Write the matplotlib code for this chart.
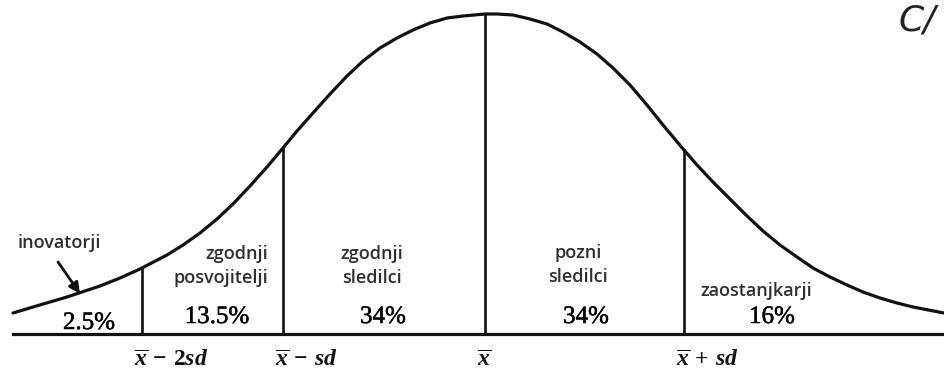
import numpy as np
import matplotlib
matplotlib.use('Agg')
import matplotlib.pyplot as plt
import matplotlib.patheffects as pe

# curve (x across, height above the base line)
curve_x = [13, 33, 50, 67, 100, 120, 140, 167, 183, 200, 217, 233, 250, 267,
           283, 297, 313, 330, 347, 363, 380, 397, 413, 430, 447, 463, 485,
           497, 513, 530, 547, 563, 580, 597, 613, 630, 647, 663, 684, 697,
           713, 730, 747, 763, 780, 797, 813, 830, 847, 863, 880, 897, 913, 944]
curve_h = [21, 27, 32, 37, 48, 56, 65, 79, 89, 101, 115, 130, 148, 167,
           186, 203, 221, 240, 258, 273, 286, 296, 304, 311, 316, 318, 320,
           320, 319, 315, 310, 302, 292, 280, 266, 249, 229, 209, 184, 169,
           152, 135, 118, 103, 89, 77, 66, 57, 49, 42, 36, 31, 27, 21]

# boundaries between the groups
bounds = [142, 283, 485, 684]
bound_labels = [r'$\overline{x}\,-\,2sd$', r'$\overline{x}\,-\,sd$',
                r'$\overline{x}$', r'$\overline{x}\,+\,sd$']

groups = ['inovatorji', 'zgodnji\nposvojitelji', 'zgodnji\nsledilci',
          'pozni\nsledilci', 'zaostanjkarji']
shares = ['2.5%', '13.5%', '34%', '34%', '16%']

plt.rcParams['mathtext.fontset'] = 'custom'
plt.rcParams['mathtext.it'] = 'Liberation Serif:italic:bold'
plt.rcParams['mathtext.rm'] = 'Liberation Serif:bold'
plt.rcParams['mathtext.bf'] = 'Liberation Serif:bold'

fig = plt.figure(figsize=(9.44, 3.73), dpi=100)
ax = fig.add_axes([0, 0, 1, 1])
ax.set_xlim(0, 944)
ax.set_ylim(-39, 334)
ax.axis('off')

ink = '#111111'
ax.plot(curve_x, curve_h, color=ink, lw=2.3, solid_joinstyle='round',
        solid_capstyle='round')
ax.plot([13, 944], [0, 0], color=ink, lw=2.3)

tops = np.interp(bounds, curve_x, curve_h)
for b, t in zip(bounds, tops):
    ax.plot([b, b], [0, t], color=ink, lw=1.9)

for b, lab in zip(bounds, bound_labels):
    ax.text(b - 8, -25, lab, ha='left', va='center', fontsize=17, color=ink)

# group names
sans = dict(family='Open Sans', fontsize=13, fontweight='semibold',
            color='#2e2e2e', linespacing=1.4)
ax.text(18, 91, groups[0], ha='left', va='center', **sans)
ax.text(268, 68, groups[1], ha='right', va='center', multialignment='right', **sans)
ax.text(372, 68, groups[2], ha='center', va='center', **sans)
ax.text(578, 69, groups[3], ha='center', va='center', **sans)
ax.text(756, 43, groups[4], ha='center', va='center', **sans)

ax.annotate('', xy=(80, np.interp(80, curve_x, curve_h) - 1), xytext=(58, 72),
            arrowprops=dict(arrowstyle='-|>', color=ink, lw=2,
                            mutation_scale=16, shrinkA=0, shrinkB=0))

# shares
share_x = [89, 217, 383, 586, 772]
share_y = [11, 17, 17, 17, 17]
heavier = [pe.withStroke(linewidth=0.35, foreground='black')]
for sx, sy, s in zip(share_x, share_y, shares):
    ax.text(sx, sy, s, ha='center', va='center', family='Liberation Serif',
            fontsize=18, color='black', path_effects=heavier)

# handwritten mark in the corner of the scan
ax.text(917, 314, 'C/', ha='center', va='center', family='DejaVu Sans',
        fontstyle='italic', fontsize=26, color='#222222')

fig.savefig('out.png', dpi=100)
